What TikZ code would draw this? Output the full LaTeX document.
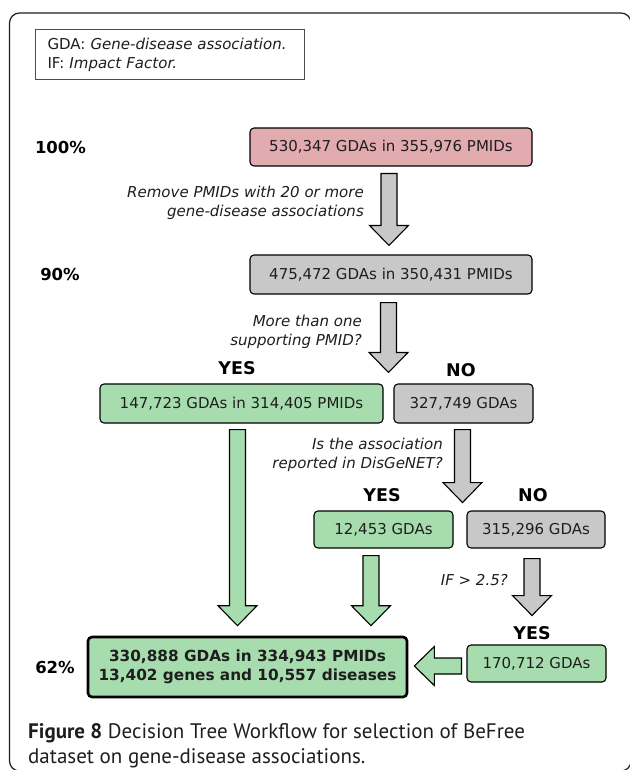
\documentclass[tikz,border=0pt]{standalone}
\usepackage{fontspec}
\setmainfont{DejaVu Sans}
\newfontfamily\capfont{PT Sans}
\usetikzlibrary{calc}
\definecolor{gdapink}{RGB}{226,171,176}
\definecolor{gdagreen}{RGB}{167,221,174}
\definecolor{gdagray}{RGB}{200,200,200}
\definecolor{inkgray}{RGB}{30,30,30}
\tikzset{
    gdabox/.style={
        draw=black,
        rounded corners=4pt,
        line width=1.1pt,
        text=inkgray,
        font=\fontsize{15}{18}\selectfont,
        minimum height=38pt,
        inner sep=0pt
    },
    answer/.style={
        font=\bfseries\fontsize{17.5}{20}\selectfont,
        inner sep=0pt
    },
    level/.style={
        font=\bfseries\fontsize{16.5}{20}\selectfont,
        inner sep=0pt
    },
    question/.style={
        font=\itshape\fontsize{15}{19}\selectfont,
        align=right,
        anchor=east,
        inner sep=0pt,
        text=inkgray
    }
}
% block arrow: fill, from, to
\newcommand{\blockarrow}[3]{%
  \path[draw=black, line width=1.1pt, fill=#1, line join=miter]
    let \p1=(#2), \p2=(#3),
        \n1={atan2(\y2-\y1,\x2-\x1)},
        \n2={veclen(\x2-\x1,\y2-\y1)} in
    [shift={(\p1)}, rotate=\n1]
    (0,-8) -- (\n2-20,-8) -- (\n2-20,-19.5) -- (\n2,0)
    -- (\n2-20,19.5) -- (\n2-20,8) -- (0,8) -- cycle;}

\begin{document}
\begin{tikzpicture}[x=1pt, y=1pt]
  \useasboundingbox (0,0) rectangle (629,-770);

  % Outer frame
  \draw[line width=1.2pt, rounded corners=10pt, draw=inkgray] (9.5,-13) rectangle (631,-771);

  % Legend
  \node[draw=black!70, line width=1.1pt, anchor=north west, align=left,
        text width=245pt, inner xsep=12pt, minimum height=50pt,
        font=\fontsize{15}{19}\selectfont, text=inkgray] (legend) at (35,-29)
    {GDA: \textit{Gene-disease association.}\\IF: \textit{Impact Factor.}};

  % Levels
  \node[level] (lvl100) at (60.5,-147) {100\%};
  \node[level] (lvl90) at (60,-274) {90\%};
  \node[level] (lvl62) at (55,-667) {62\%};

  % Boxes
  \node[gdabox, fill=gdapink, minimum width=282pt] (b1) at (391,-147) {530,347 GDAs in 355,976 PMIDs};
  \node[gdabox, fill=gdagray, minimum width=282pt, minimum height=39pt] (b2) at (391,-274.5) {475,472 GDAs in 350,431 PMIDs};
  \node[gdabox, fill=gdagreen, minimum width=283pt, minimum height=39pt] (b3) at (241.5,-403.5) {147,723 GDAs in 314,405 PMIDs};
  \node[gdabox, fill=gdagray, minimum width=139pt, minimum height=39pt] (b4) at (463.5,-403.5) {327,749 GDAs};
  \node[gdabox, fill=gdagreen, minimum width=139pt, minimum height=37pt] (b5) at (383.5,-529.5) {12,453 GDAs};
  \node[gdabox, fill=gdagray, minimum width=138pt, minimum height=37pt] (b6) at (536,-529.5) {315,296 GDAs};
  \node[gdabox, fill=gdagreen, minimum width=139pt, minimum height=37pt] (b7) at (536.5,-663.5) {170,712 GDAs};
  \node[gdabox, fill=gdagreen, line width=2.6pt, minimum width=319pt, minimum height=60pt,
        align=center, font=\bfseries\fontsize{15.3}{19.5}\selectfont] (fin) at (247.5,-667)
    {330,888 GDAs in 334,943 PMIDs\\13,402 genes and 10,557 diseases};

  % Answers
  \node[answer] (yes1) at (237,-368) {YES};
  \node[answer] (no1) at (461,-370) {NO};
  \node[answer] (yes2) at (382,-495) {YES};
  \node[answer] (no2) at (533,-495) {NO};
  \node[answer] (yes3) at (532,-633) {YES};

  % Questions
  \node[question] (q1) at (364,-203) {Remove PMIDs with 20 or more\\gene-disease associations};
  \node[question] (q2) at (362,-331.5) {More than one\\supporting PMID?};
  \node[question] (q3) at (443,-454.5) {Is the association\\reported in DisGeNET?};
  \node[question] (q4) at (508,-580) {IF > 2.5?};

  % Split points
  \coordinate (split1) at ($(b3.north east)!.5!(b4.north west)+(0,11)$);
  \coordinate (split2) at ($(b4.south)+(-1,-79)$);
  \coordinate (ifyes) at ($(b6.south)+(-4,-67)$);

  % Arrows
  \blockarrow{gdagray}{$(b1.south)+(-2,-7)$}{$(b2.north)+(-2,9)$}
  \blockarrow{gdagray}{$(b2.south)+(-2.5,-8)$}{split1}
  \blockarrow{gdagreen}{$(b3.south)+(-4,-6)$}{$(fin.north)+(-10,10)$}
  \blockarrow{gdagray}{$(b4.south)+(-1,-6)$}{split2}
  \blockarrow{gdagreen}{$(b5.south)+(-12.5,-7)$}{$(fin.north)+(123.5,10)$}
  \blockarrow{gdagray}{$(b6.south)+(-4,-10)$}{ifyes}
  \blockarrow{gdagreen}{$(b7.west)+(-5,-2.5)$}{$(fin.east)+(6,1)$}

  % Caption
  \node[anchor=north west, align=left, inner sep=0pt, text=inkgray,
        font=\capfont\fontsize{21}{25}\selectfont] (caption) at (28,-723)
    {\textbf{Figure 8} Decision Tree Workflow for selection of BeFree\\dataset on gene-disease associations.};
\end{tikzpicture}
\end{document}
